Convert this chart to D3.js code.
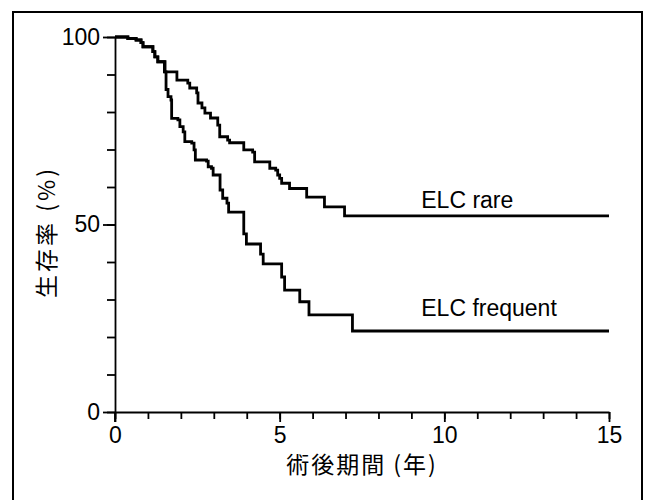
<!DOCTYPE html>
<html>
<head>
<meta charset="utf-8">
<script src="https://cdn.jsdelivr.net/npm/d3@7"></script>
<style>
  body { margin: 0; background: #fff; }
  svg { display: block; }
  .tick text { font-family: "Liberation Sans", Arial, sans-serif; }
</style>
</head>
<body>
<svg id="chart" width="649" height="500"></svg>
<script>
// survival curves (years, % surviving)
const rareTimes = [0, 0.39, 0.64, 0.79, 0.85, 1.15, 1.21, 1.30, 1.52, 1.88, 2.21, 2.27, 2.48, 2.52, 2.64, 2.73, 2.90, 3.12, 3.18, 3.42, 3.48, 3.91, 4.18, 4.24, 4.70, 4.88, 4.94, 5.00, 5.06, 5.30, 5.82, 6.36, 6.97, 15];
const rareSurv  = [100, 99.6, 99.2, 98.5, 97.4, 96.1, 94.7, 93.4, 90.7, 88.5, 87.7, 86.4, 85.1, 82.4, 81.1, 79.7, 78.4, 76.5, 73.4, 72.5, 71.8, 69.9, 69.3, 66.7, 65.0, 64.5, 63.2, 62.3, 61.0, 59.6, 57.3, 54.7, 52.3, 52.3];

const freqTimes = [0, 0.39, 0.64, 0.79, 0.85, 1.15, 1.21, 1.30, 1.50, 1.55, 1.61, 1.70, 1.72, 1.91, 1.97, 2.07, 2.12, 2.33, 2.40, 2.44, 2.78, 2.83, 2.93, 2.98, 3.19, 3.27, 3.40, 3.45, 3.91, 3.99, 4.42, 4.50, 5.06, 5.15, 5.61, 5.89, 7.21, 15];
const freqSurv  = [100, 99.6, 99.2, 98.5, 97.4, 96.1, 94.7, 93.4, 90.7, 86.0, 84.1, 83.2, 78.3, 77.9, 76.1, 74.7, 72.1, 71.7, 69.9, 67.2, 66.9, 65.4, 65.0, 63.2, 59.2, 57.0, 55.7, 53.3, 47.5, 44.8, 42.1, 39.5, 36.0, 32.5, 29.4, 25.9, 21.6, 21.6];

const xMajor = [0, 5, 10, 15];
const yMajor = [0, 50, 100];
const seriesLabels = ["ELC rare", "ELC frequent"];
const xTitle = "術後期間 (年)";
const yTitle = "生存率 (%)";

const svg = d3.select("#chart");

// outer frame (bottom edge runs off the picture)
svg.append("rect")
  .attr("x", 13).attr("y", 12)
  .attr("width", 629).attr("height", 520)
  .attr("fill", "none")
  .attr("stroke", "#000")
  .attr("stroke-width", 2);

const x = d3.scaleLinear().domain([0, 15]).range([115, 609]);
const y = d3.scaleLinear().domain([0, 100]).range([412, 37]);

//* axes
const styleAxis = g => {
  g.select(".domain").attr("stroke", "#000").attr("stroke-width", 1.8);
  g.selectAll(".tick line").attr("stroke", "#000").attr("stroke-width", 1.8);
  g.selectAll(".tick text").attr("fill", "#000").attr("font-size", "23px");
};

svg.append("g")
  .attr("transform", `translate(0,${y(0)})`)
  .call(d3.axisBottom(x).tickValues(d3.range(0, 16, 1)).tickSize(7).tickFormat("").tickSizeOuter(0))
  .call(styleAxis);

svg.append("g")
  .attr("transform", `translate(0,${y(0)})`)
  .call(d3.axisBottom(x).tickValues(xMajor).tickSize(10).tickPadding(5).tickFormat(d3.format("d")).tickSizeOuter(0))
  .call(styleAxis)
  .call(g => g.select(".domain").remove());

svg.append("g")
  .attr("transform", `translate(${x(0)},0)`)
  .call(d3.axisLeft(y).tickValues(d3.range(0, 101, 10)).tickSize(8).tickFormat("").tickSizeOuter(0))
  .call(styleAxis);

svg.append("g")
  .attr("transform", `translate(${x(0)},0)`)
  .call(d3.axisLeft(y).tickValues(yMajor).tickSize(12).tickPadding(3).tickFormat(d3.format("d")).tickSizeOuter(0))
  .call(styleAxis)
  .call(g => g.select(".domain").remove());

// y axis runs a little below zero like the original
svg.append("line")
  .attr("x1", x(0)).attr("x2", x(0))
  .attr("y1", y(0)).attr("y2", y(0) + 10)
  .attr("stroke", "#000").attr("stroke-width", 1.8);

//* curves
const line = d3.line()
  .x(d => x(d[0]))
  .y(d => y(d[1]))
  .curve(d3.curveStepAfter);

const curves = [
  d3.zip(rareTimes, rareSurv),
  d3.zip(freqTimes, freqSurv)
];

svg.selectAll(".curve")
  .data(curves)
  .enter()
  .append("path")
  .attr("class", "curve")
  .attr("d", line)
  .attr("fill", "none")
  .attr("stroke", "#000")
  .attr("stroke-width", 2.8);

svg.selectAll(".series-label")
  .data(seriesLabels)
  .enter()
  .append("text")
  .attr("class", "series-label")
  .attr("x", x(9.3))
  .attr("y", (d, i) => i === 0 ? y(54.5) : y(25.5))
  .attr("font-family", "'Liberation Sans', Arial, sans-serif")
  .attr("font-size", "23px")
  .attr("fill", "#000")
  .text(d => d);

//* titles
svg.append("text")
  .attr("x", x(7.5))
  .attr("y", 473)
  .attr("text-anchor", "middle")
  .attr("font-family", "'Noto Sans CJK JP', sans-serif")
  .attr("font-size", "23px")
  .attr("letter-spacing", "2px")
  .attr("fill", "#000")
  .text(xTitle);

svg.append("text")
  .attr("transform", `translate(55,${y(48)}) rotate(-90)`)
  .attr("text-anchor", "middle")
  .attr("font-family", "'Noto Sans CJK JP', sans-serif")
  .attr("font-size", "23px")
  .attr("letter-spacing", "3px")
  .attr("fill", "#000")
  .text(yTitle);
</script>
</body>
</html>
